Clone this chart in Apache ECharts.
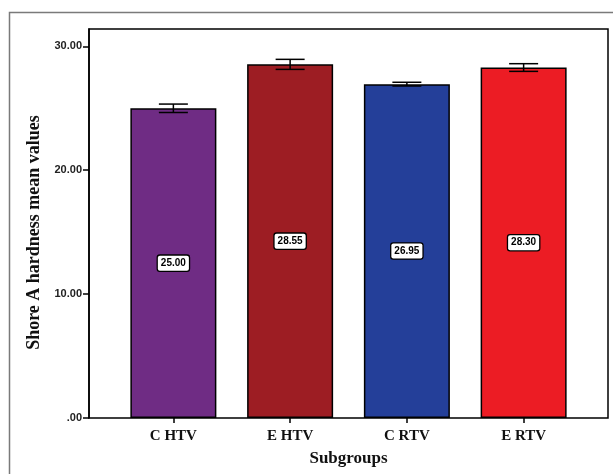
<!DOCTYPE html>
<html>
<head>
<meta charset="utf-8">
<script src="https://cdn.jsdelivr.net/npm/echarts@6/dist/echarts.min.js"></script>
<style>
  html, body { margin: 0; padding: 0; background: #fff; }
  #chart { width: 613px; height: 474px; }
</style>
</head>
<body>
<div id="chart"></div>
<script>
// Shore A hardness by subgroup: means with +/- error bars
var categories = ['C HTV', 'E HTV', 'C RTV', 'E RTV'];
var means = [25.00, 28.55, 26.95, 28.30];
var errLow = [24.66, 28.14, 26.80, 27.98];
var errHigh = [25.34, 28.95, 27.10, 28.60];
var barColors = ['#6F2C84', '#9D1D23', '#243F99', '#EC1C24'];
var yTicks = [0, 10, 20, 30];

var Y_MAX = 31.4;
var serif = '"Liberation Serif", "Times New Roman", serif';
var sans = '"Liberation Sans", Arial, sans-serif';

var chart = echarts.init(document.getElementById('chart'), null, { renderer: 'canvas' });

var barData = means.map(function (v, i) {
  return { value: v, itemStyle: { color: barColors[i] } };
});
var errData = categories.map(function (c, i) {
  return [i, errLow[i], errHigh[i]];
});

var option = {
  backgroundColor: '#ffffff',
  animation: false,
  graphic: [{
    type: 'rect',
    shape: { x: 9.5, y: 12.5, width: 700, height: 600 },
    style: { fill: 'none', stroke: '#7a7a7a', lineWidth: 1.5 },
    silent: true,
    z: 0
  }],
  grid: [
    // outer plot frame, carries the value axis
    { left: 89, right: 5, top: 29, bottom: 56, show: true, borderColor: '#000', borderWidth: 1.5, backgroundColor: 'transparent' },
    // inner band where the bars sit
    { left: 115, right: 31, top: 29, bottom: 56 }
  ],
  xAxis: [
    { gridIndex: 0, type: 'value', min: 0, max: 1, show: false },
    {
      gridIndex: 1,
      type: 'category',
      data: categories,
      axisLine: { show: false },
      axisTick: { show: true, alignWithLabel: true, length: 5, lineStyle: { color: '#000', width: 1.5 } },
      axisLabel: { color: '#111', fontFamily: serif, fontWeight: 'bold', fontSize: 15, margin: 11 },
      name: 'Subgroups',
      nameLocation: 'middle',
      nameGap: 32,
      nameTextStyle: { color: '#111', fontFamily: serif, fontWeight: 'bold', fontSize: 17 }
    }
  ],
  yAxis: [
    {
      gridIndex: 0,
      type: 'value',
      min: 0,
      max: Y_MAX,
      splitLine: { show: false },
      axisLine: { show: true, lineStyle: { color: '#000', width: 1.5 } },
      axisTick: { show: true, length: 6, customValues: yTicks, lineStyle: { color: '#000', width: 1.5 } },
      axisLabel: {
        customValues: yTicks,
        color: '#222',
        fontFamily: sans,
        fontWeight: 'bold',
        fontSize: 11,
        margin: 7,
        formatter: function (v) { return v === 0 ? '.00' : v.toFixed(2); }
      },
      name: 'Shore A hardness mean values',
      nameLocation: 'middle',
      nameGap: 42,
      nameTextStyle: { color: '#111', fontFamily: serif, fontWeight: 'bold', fontSize: 18, padding: [0, 0, 0, -18] }
    },
    { gridIndex: 1, type: 'value', min: 0, max: Y_MAX, show: false, splitLine: { show: false } }
  ],
  series: [
    {
      type: 'bar',
      xAxisIndex: 1,
      yAxisIndex: 1,
      data: barData,
      barWidth: 86,
      itemStyle: { borderColor: '#000', borderWidth: 1.5 },
      label: {
        show: true,
        position: 'inside',
        formatter: function (p) { return p.value.toFixed(2); },
        color: '#000',
        fontFamily: sans,
        fontWeight: 'bold',
        fontSize: 10,
        backgroundColor: '#fff',
        borderColor: '#000',
        borderWidth: 1.3,
        borderRadius: 2,
        padding: [3, 3, 2, 3]
      },
      z: 2
    },
    {
      type: 'custom',
      xAxisIndex: 1,
      yAxisIndex: 1,
      data: errData,
      z: 3,
      renderItem: function (params, api) {
        var x = api.value(0);
        var lo = api.coord([x, api.value(1)]);
        var hi = api.coord([x, api.value(2)]);
        var half = 14.5;
        var st = { stroke: '#000', lineWidth: 1.5 };
        return {
          type: 'group',
          children: [
            { type: 'line', shape: { x1: lo[0], y1: lo[1], x2: hi[0], y2: hi[1] }, style: st },
            { type: 'line', shape: { x1: hi[0] - half, y1: hi[1], x2: hi[0] + half, y2: hi[1] }, style: st },
            { type: 'line', shape: { x1: lo[0] - half, y1: lo[1], x2: lo[0] + half, y2: lo[1] }, style: st }
          ]
        };
      }
    }
  ]
};

chart.setOption(option);
</script>
</body>
</html>
